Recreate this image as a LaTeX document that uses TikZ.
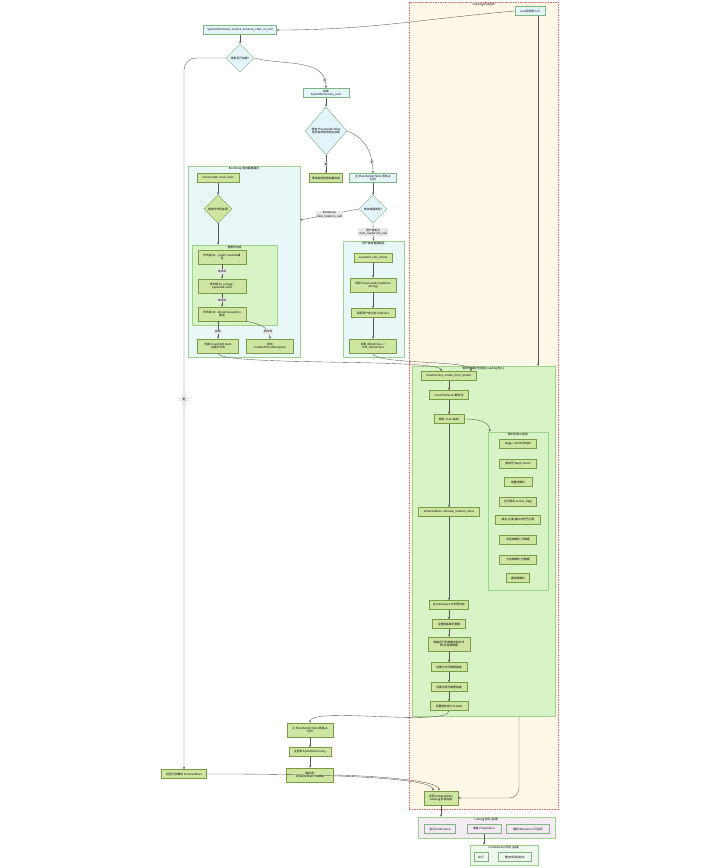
\documentclass[tikz,border=0pt]{standalone}
\usepackage{fontspec}
\setmainfont{Noto Sans CJK SC}
\usepackage{tikz}
\usetikzlibrary{calc,positioning,shapes.geometric,arrows.meta,patterns}
\definecolor{bluefill}{HTML}{E3F4FB}
\definecolor{greenfill}{HTML}{CFE6A2}
\definecolor{nodeline}{HTML}{7FB57F}
\definecolor{greenline}{HTML}{7A9B45}
\definecolor{grpblue}{HTML}{E8F6FC}
\definecolor{grpgreen}{HTML}{D6F6C0}
\definecolor{grpline}{HTML}{9ED28C}
\definecolor{ldfill}{HTML}{FFF8E6}
\definecolor{ldline}{HTML}{E86A6A}
\definecolor{lkfill}{HTML}{F5E8F5}
\definecolor{infill}{HTML}{EEF8EC}
\definecolor{edgegrey}{HTML}{555555}
\definecolor{lblgrey}{HTML}{E8E8E8}
\newcommand\dfont{\fontsize{2.8}{3.4}\selectfont}
\tikzset{
  bluebox/.style  = {draw=nodeline, line width=0.45pt, fill=bluefill,
                     font=\dfont, align=center, inner sep=1.5pt,
                     minimum height=9pt},
  greenbox/.style = {bluebox, draw=greenline, fill=greenfill},
  choice/.style   = {diamond, aspect=1, draw=nodeline, line width=0.45pt,
                     fill=bluefill, font=\dfont, align=center, inner sep=0.5pt},
  gchoice/.style  = {choice, draw=greenline, fill=greenfill},
  grpbox/.style   = {draw=grpline, line width=0.45pt, fill=grpgreen,
                     inner sep=0pt, hatch=grpline!35},
  hatch/.style    = {postaction={pattern=north east lines, pattern color=#1},
                     postaction={draw}},
  grptitle/.style = {font=\dfont, anchor=north, inner sep=1pt},
  flow/.style     = {-{Stealth[length=2.4pt,width=2pt]}, draw=edgegrey,
                     line width=0.35pt},
  elbl/.style     = {fill=lblgrey, font=\dfont, align=center, inner sep=0.8pt},
}

\begin{document}
\begin{tikzpicture}[x=1pt, y=-1pt]
    \useasboundingbox (0,0) rectangle (720,868);

    % ---------------- loading boundary
    \node[draw=ldline, dash pattern=on 1.5pt off 1pt, line width=0.5pt,
      fill=ldfill, minimum width=149, minimum height=807,
      anchor=north west] (ldsg) at (409,2) {};
    \node[grptitle] at (ldsg.north) {Loading 阶段边界};

    % ---------------- entry and lookup
    \node[bluebox, minimum width=30] (jent) at (530,11) {Java层调用入口};
    \node[bluebox, minimum width=73] (rsv) at (240,30)
      {SystemDictionary::resolve\_instance\_class\_or\_null};
    \node[choice, minimum size=28] (chk1) at (240,58) {类是否已加载?};
    \node[bluebox, minimum width=46] (lock) at (326,93)
      {加锁\\SystemDictionary\_lock};
    \node[choice, minimum width=42, minimum height=48] (chk2) at (326,131)
      {检查 PlaceholderTable\\是否有其他线程在加载};
    \node[greenbox, minimum width=33] (wait) at (326,178) {等待其他线程加载完成};
    \node[bluebox, minimum width=47] (addph) at (373,178)
      {在 PlaceholderTable 添加占\\位符};
    \node[choice, minimum size=28] (ldtype) at (373,209) {类加载器类型?};

    % ---------------- bootstrap path
    \node[grpbox, fill=grpblue, hatch=cyan!6, minimum width=112, minimum height=191]
      (bsg) at (244,261.5) {};
    \node[grptitle] at (bsg.north) {Bootstrap 类加载器路径};
    \node[greenbox, minimum width=42] (cll) at (218,178) {ClassLoader::load\_class};
    \node[gchoice, minimum size=28] (srch) at (218,209) {搜索字节码来源};

    \node[grpbox, minimum width=85, minimum height=80] (psg) at (234.5,285) {};
    \node[grptitle] at (psg.north) {搜索优先级};
    \node[greenbox, minimum width=48, minimum height=14] (pri1) at (222,257)
      {优先级 \#1: --patch-module 路\\径};
    \node[greenbox, minimum width=48, minimum height=14] (pri2) at (222,286)
      {优先级 \#2: jimage /\\exploded build};
    \node[greenbox, minimum width=48, minimum height=14] (pri3) at (222,314)
      {优先级 \#3: -Xbootclasspath/a\\路径};

    \node[greenbox, minimum width=41, minimum height=14] (cfs) at (218,346)
      {创建 ClassFileStream\\包装字节流};
    \node[greenbox, minimum width=47, minimum height=14] (cnfe) at (270,346)
      {抛出\\ClassNotFoundException};

    % ---------------- user loader path
    \node[grpbox, fill=grpblue, hatch=cyan!6, minimum width=61, minimum height=116]
      (usg) at (373.5,299) {};
    \node[grptitle] at (usg.north) {用户类加载器路径};
    \node[greenbox, minimum width=38] (jcv) at (373,258) {JavaCalls::call\_virtual};
    \node[greenbox, minimum width=46, minimum height=14] (ldc) at (373,285)
      {调用 ClassLoader.loadClass\\(String)};
    \node[greenbox, minimum width=44] (fcl) at (373,313) {调用用户定义的 findClass};
    \node[greenbox, minimum width=47, minimum height=14] (dfc) at (373,346)
      {调用 defineClass ->\\JVM\_DefineClass};

    % ---------------- parsing and creation
    \node[grpbox, minimum width=143, minimum height=350] (csg) at (483.5,541) {};
    \node[grptitle] at (csg.north) {类文件解析与创建 (Loading 核心)};
    \node[greenbox, minimum width=55] (kfc) at (449,376)
      {KlassFactory::create\_from\_stream};
    \node[greenbox, minimum width=39] (cfp) at (449,395) {ClassFileParser 解析流};
    \node[greenbox, minimum width=30] (pcls) at (449,419) {解析 .class 结构};

    \node[grpbox, minimum width=60, minimum height=158] (ssg) at (518,511) {};
    \node[grptitle] at (ssg.north) {解析的核心结构};
    \node[greenbox, minimum width=37] (mag) at (518,444) {Magic: 0xCAFEBABE};
    \node[greenbox, minimum width=37] (ver) at (518,464) {版本号 Major/minor};
    \node[greenbox, minimum width=28] (cpl) at (518,482) {常量池解析};
    \node[greenbox, minimum width=37] (acc) at (518,502) {访问标志 access\_flags};
    \node[greenbox, minimum width=45] (cnm) at (518,520) {类名/父类/接口的符号引用};
    \node[greenbox, minimum width=37] (fld) at (518,540) {字段表解析/元数据};
    \node[greenbox, minimum width=37] (mth) at (518,560) {方法表解析/元数据};
    \node[greenbox, minimum width=23] (att) at (518,578) {属性表解析};

    \node[greenbox, minimum width=61] (alloc) at (449,512)
      {InstanceKlass::allocate\_instance\_klass};
    \node[greenbox, minimum width=39] (meta) at (449,605) {在 Metaspace 中分配内存};
    \node[greenbox, minimum width=33] (base) at (449,624) {设置类基础元数据};
    \node[greenbox, minimum width=42, minimum height=14] (rcp) at (449,644)
      {构建运行时常量池和方法\\表/字段表数据};
    \node[greenbox, minimum width=36] (mlk) at (449,667) {创建方法元数据链接};
    \node[greenbox, minimum width=36] (flk) at (449,687) {创建字段元数据链接};
    \node[greenbox, minimum width=38] (stld) at (449,706) {设置类状态为 loaded};

    % ---------------- registration and return
    \node[greenbox, minimum width=46, minimum height=14] (rmph) at (310,730)
      {从 PlaceholderTable 移除占\\位符};
    \node[greenbox, minimum width=42] (reg) at (310,752) {注册到 SystemDictionary};
    \node[greenbox, minimum width=47, minimum height=14] (stat) at (310,775)
      {类状态:\\InstanceKlass::loaded};
    \node[greenbox, minimum width=45] (retl) at (184,774) {返回已加载的 InstanceKlass};
    \node[greenbox, minimum width=34, minimum height=14] (done) at (441,798)
      {返回 InstanceKlass\\Loading 阶段完成};

    % ---------------- later phases
    \node[grpbox, fill=lkfill, hatch=magenta!5, minimum width=137, minimum height=21]
      (lksg) at (486.5,827.5) {};
    \node[grptitle] at (lksg.north) {Linking 阶段 (后续)};
    \node[bluebox, fill=lkfill, minimum width=31] (vrf) at (440,829) {验证 Verification};
    \node[bluebox, fill=lkfill, minimum width=34] (prep) at (484,829) {准备 Preparation};
    \node[bluebox, fill=lkfill, minimum width=43] (rsl) at (528,829) {解析 Resolution 可延迟};

    \node[grpbox, fill=infill, hatch=green!5, minimum width=68, minimum height=20]
      (insg) at (504,855) {};
    \node[grptitle] at (insg.north) {Initialization 阶段 (后续)};
    \node[bluebox, fill=infill, minimum width=14] (exe) at (481,857) {执行};
    \node[bluebox, fill=infill, minimum width=33] (sfi) at (515,857) {静态字段初始化};

    % ---------------- connectors
    \coordinate (csgin) at (538,366);
    \coordinate (csgout) at (519,716);
    \coordinate (bsgin) at (300,220);

    \draw[flow] (jent.west) to[out=185,in=0] (rsv.east);
    \draw[flow] (csgin |- jent.south) -- (csgin);
    \draw[flow] (rsv) -- (chk1);
    \draw[flow, rounded corners=12pt] (chk1.west) -| node[elbl, pos=0.74] {是} (retl.north);
    \draw[flow] (chk1.east) to[out=-15,in=90] node[elbl, pos=0.9] {否} (lock.north);
    \draw[flow] (lock) -- (chk2);
    \draw[flow] (chk2.south) -- node[elbl] {是} (wait.north);
    \draw[flow] (chk2.east) to[out=-20,in=90] node[elbl, pos=0.8] {否} (addph.north);
    \draw[flow] (addph) -- (ldtype);
    \draw[flow] (ldtype.west) -- node[elbl] {Bootstrap\\class\_loader.is\_null} (bsgin);
    \draw[flow] (ldtype.south) -- node[elbl] {用户自定义\\class\_loader.not\_null} (usg.north);

    \draw[flow] (cll) -- (srch);
    \draw[flow] (srch.south) -- (srch.south |- psg.north);
    \foreach \a/\b in {pri1/pri2, pri2/pri3} {\draw[flow] (\a) -- node[elbl] {未找到} (\b);}
    \draw[flow] (pri3.south -| cfs.north) -- node[elbl, pos=0.6] {找到} (cfs.north);
    \draw[flow] (pri3.south east) to[out=-10,in=90] node[elbl, pos=0.75] {未找到} (cnfe.north);

    \foreach \a/\b in {jcv/ldc, ldc/fcl, fcl/dfc} {\draw[flow] (\a) -- (\b);}

    \draw[flow] (cfs.south) to[out=-90,in=90,looseness=0.15] ($(kfc.north)+(-8,0)$);
    \draw[flow] (dfc.south) to[out=-90,in=90,looseness=0.3] ($(kfc.north)+(22,0)$);

    \foreach \a/\b in {kfc/cfp, cfp/pcls, pcls/alloc, alloc/meta, meta/base,
                       base/rcp, rcp/mlk, mlk/flk, flk/stld} {\draw[flow] (\a) -- (\b);}
    \draw[flow] (pcls.east) to[out=0,in=90] ($(ssg.north west)+(2,0)$);

    \draw[flow] (stld.south) to[out=-90,in=90,looseness=0.3] (rmph.north);
    \foreach \a/\b in {rmph/reg, reg/stat} {\draw[flow] (\a) -- (\b);}
    \draw[flow] (stat.east) to[out=0,in=90,looseness=0.3] ($(done.north)+(-2,0)$);
    \draw[flow] (retl.east) to[out=0,in=90,looseness=0.2] ($(done.north)+(-8,0)$);
    \draw[flow, rounded corners=10pt] (csgout) |- (done.east);

    \draw[flow] (done.south) -- (done.south |- lksg.north);
    \draw[flow] (prep.south) -- (prep.south |- insg.north);
  \end{tikzpicture}
\end{document}
